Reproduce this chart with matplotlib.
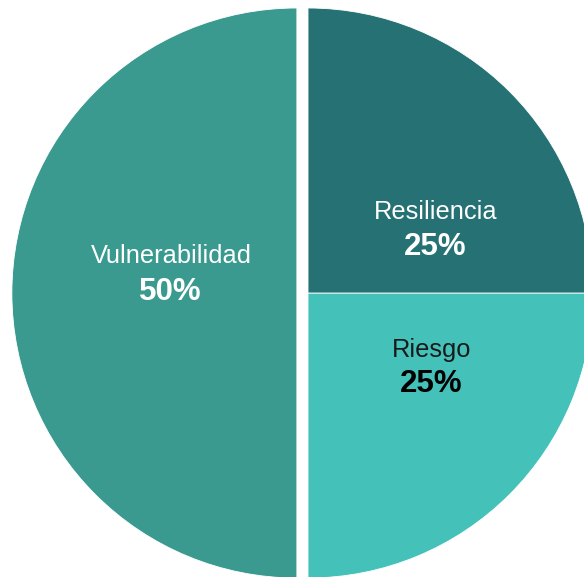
import matplotlib
matplotlib.use("Agg")
import matplotlib.pyplot as plt

# data
labels = ["Vulnerabilidad", "Riesgo", "Resiliencia"]
values = [50, 25, 25]
colors = ["#3a9a8f", "#44c1b9", "#267174"]
text_colors = ["white", "#1a1a1a", "white"]
pct_colors = ["white", "black", "white"]

# label positions (data units, pie radius = 1)
label_pos = [(-0.481, 0.130), (0.432, -0.200), (0.449, 0.284)]
pct_pos = [(-0.484, 0.005), (0.432, -0.318), (0.447, 0.160)]

plt.rcParams['font.family'] = ['Liberation Sans', 'DejaVu Sans']

fig = plt.figure(figsize=(5.84, 5.77), dpi=100)
ax = fig.add_axes([0, 0, 1, 1])

ax.pie(values, colors=colors, startangle=90, counterclock=True,
       explode=[0.039, 0, 0], radius=1,
       wedgeprops=dict(edgecolor="white", linewidth=0.6))

for i, lab in enumerate(labels):
    ax.text(label_pos[i][0], label_pos[i][1], lab, ha="center", va="center",
            fontsize=18.3, color=text_colors[i])
    ax.text(pct_pos[i][0], pct_pos[i][1], "%d%%" % values[i], ha="center",
            va="center", fontsize=22.5, fontweight="bold", color=pct_colors[i])

ax.set_aspect("auto")
ax.set_xlim(-308 / 285, (584 - 308) / 285)
ax.set_ylim(-(577 - 293) / 285, 293 / 285)
ax.axis("off")

plt.savefig("out.png", dpi=100)
